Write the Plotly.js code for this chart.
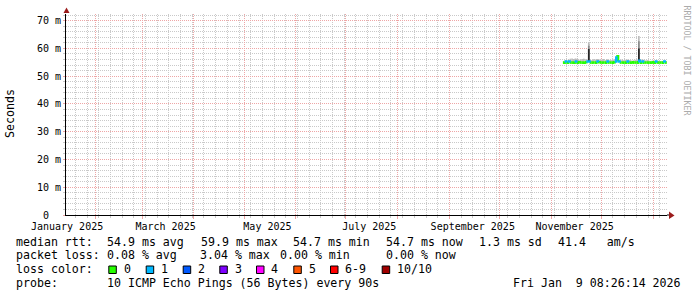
<!DOCTYPE html>
<html><head><meta charset="utf-8">
<script src="https://cdn.plot.ly/plotly-3.0.1.min.js"></script>
<style>html,body{margin:0;padding:0;background:#fff;} #chart{width:697px;height:297px;}</style>
</head><body><div id="chart"></div>
<script>
// ---- data ----
const days = ['2025-11-08','2025-11-09','2025-11-10','2025-11-11','2025-11-12','2025-11-13','2025-11-14','2025-11-15','2025-11-16','2025-11-17',
 '2025-11-18','2025-11-19','2025-11-20','2025-11-21','2025-11-22','2025-11-23','2025-11-24','2025-11-25','2025-11-26','2025-11-27',
 '2025-11-28','2025-11-29','2025-11-30','2025-12-01','2025-12-02','2025-12-03','2025-12-04','2025-12-05','2025-12-06','2025-12-07',
 '2025-12-08','2025-12-09','2025-12-10','2025-12-11','2025-12-12','2025-12-13','2025-12-14','2025-12-15','2025-12-16','2025-12-17',
 '2025-12-18','2025-12-19','2025-12-20','2025-12-21','2025-12-22','2025-12-23','2025-12-24','2025-12-25','2025-12-26','2025-12-27',
 '2025-12-28','2025-12-29','2025-12-30','2025-12-31','2026-01-01','2026-01-02','2026-01-03','2026-01-04','2026-01-05','2026-01-06',
 '2026-01-07','2026-01-08','2026-01-09'];
const medianMs = [54.9,55.3,54.9,55.3,54.9,54.9,54.9,55.3,54.9,55.0,
 54.9,54.9,54.9,55.0,55.3,55.3,54.9,54.9,54.9,54.9,
 55.3,55.0,54.9,54.9,54.9,54.9,55.3,54.9,54.9,54.9,
 55.0,55.3,57.2,55.3,54.9,54.9,54.9,54.9,55.3,54.9,
 54.9,55.0,54.9,54.9,54.9,55.5,54.9,55.3,54.9,54.9,
 54.9,54.9,54.9,55.0,54.9,55.3,54.9,54.9,54.9,54.9,
 55.3,54.9,54.9];
const lossCount = [0,1,0,1,0,0,0,1,0,0,
 0,0,0,0,1,1,0,0,0,0,
 1,0,0,0,0,0,1,0,0,0,
 0,1,0,1,0,0,0,0,1,0,
 0,0,0,0,0,1,0,1,0,0,
 0,0,0,0,0,1,0,0,0,0,
 1,0,0];
const smokeMaxMs = [55.4,55.8,55.6,56.0,56.3,56.4,56.2,56.4,56.3,55.9,
 56.0,56.2,56.3,56.1,56.0,62.0,55.7,55.8,56.1,56.0,
 56.2,56.1,55.9,56.0,56.2,55.8,56.1,55.7,55.9,55.8,
 56.0,55.9,57.5,55.8,55.6,56.0,55.7,55.9,56.0,55.7,
 55.8,55.6,55.7,55.9,56.0,64.5,56.1,56.0,55.9,55.7,
 55.8,55.6,55.5,55.6,55.5,55.7,55.5,55.6,55.4,55.5,
 55.6,55.4,55.3];
const spikeMidMs = {'2025-11-23': 61.0, '2025-12-23': 62.6};
const spikeCoreMs = {'2025-11-23': 59.8, '2025-12-23': 60.0};

const yTickVals = [0,10,20,30,40,50,60,70];
const yTickText = ['0\u00a0\u00a0','10 m','20 m','30 m','40 m','50 m','60 m','70 m'];
const monthStarts = ['2025-02-01','2025-03-01','2025-04-01','2025-05-01','2025-06-01','2025-07-01',
 '2025-08-01','2025-09-01','2025-10-01','2025-11-01','2025-12-01','2026-01-01'];
const labelDates = ['2025-01-15','2025-03-15','2025-05-15','2025-07-15','2025-09-15','2025-11-15'];
const labelText = ['January 2025','March 2025','May 2025','July 2025','September 2025','November 2025'];

const lossLabels = ['0','1','2','3','4','5','6-9','10/10'];
const lossColors = ['#26ff00','#00b8ff','#0059ff','#7e00ff','#ff00ff','#ff5500','#ff0000','#a00000'];
const rttStats = ['54.9 ms avg','59.9 ms max','54.7 ms min','54.7 ms now','1.3 ms sd','41.4\u00a0\u00a0\u00a0am/s'];
const lossStats = ['0.08 % avg','3.04 % max','0.00 % min','0.00 % now'];
const probeText = '10 ICMP Echo Pings (56 Bytes) every 90s';
const stampText = 'Fri Jan \u00a09 08:26:14 2026';

const rangeStart = '2025-01-14 08:26:14';
const rangeEnd = '2026-01-09 08:26:14';

// ---- layout helpers (pixel -> paper) ----
const L = 66, R = 667, T = 14, B = 215;
const px = X => (X - L) / (R - L);
const py = Y => (B - Y) / (B - T);
const FONT = 'DejaVu Sans Mono';
const DAY = 86400000;

function lossIdx(n){ if(n<=5) return n; if(n<10) return 6; return 7; }

const traces = [];
function smokeBar(tops, color){
  const y = days.map((d,i)=>{ const t = tops(d,i); return t==null?null:t - medianMs[i]; });
  traces.push({type:'bar', x:days, base:medianMs, y:y, offset:0, width:DAY,
    marker:{color:color, line:{width:0}}, hoverinfo:'skip', showlegend:false});
}
smokeBar((d,i)=>smokeMaxMs[i], '#bcbcbc');
smokeBar(d=>spikeMidMs[d]??null, '#8c8c8c');
smokeBar(d=>spikeCoreMs[d]??null, '#262626');

// median line, coloured by loss
lossColors.forEach((c,ci)=>{
  const x=[], y=[];
  days.forEach((d,i)=>{
    if(lossIdx(lossCount[i])!==ci) return;
    x.push(d); y.push(medianMs[i]);
    if(i+1<days.length){ x.push(days[i+1]); y.push(medianMs[i+1]); }
    else { x.push(rangeEnd); y.push(medianMs[i]); }
    x.push(null); y.push(null);
  });
  if(x.length) traces.push({type:'scatter', mode:'lines', x:x, y:y, line:{color:c, width:2.6, shape:'hv'},
    connectgaps:false, hoverinfo:'skip', showlegend:false});
});

const MGRID = '#eea6a6', GRID = '#c9c9c9', DASH = '1px,1px';
const annotations = [];
function txt(t, X, Y, opt){
  annotations.push(Object.assign({text:t, xref:'paper', yref:'paper', x:px(X), y:py(Y), xanchor:'left', yanchor:'middle',
    showarrow:false, borderpad:0, borderwidth:0, font:{family:FONT, size:11.6, color:'#000'}}, opt||{}));
}
const ROW = [241.5, 255.3, 269.4, 283.3];
txt('median rtt:', 16, ROW[0]);
[107.3,200.7,293.3,386,479.3,558.3].forEach((X,i)=>txt(rttStats[i], X, ROW[0]));
txt('packet loss:', 16, ROW[1]);
[107.3,199.5,279.5,386].forEach((X,i)=>txt(lossStats[i], X, ROW[1]));
txt('loss color:', 16, ROW[2]);
const boxX = [108.3,145.7,182.7,219.3,256,293.3,330,381.7];
const shapes = [];
boxX.forEach((X,i)=>{
  shapes.push({type:'rect', xref:'paper', yref:'paper', x0:px(X+0.5), x1:px(X+8), y0:py(273.5), y1:py(266),
    fillcolor:lossColors[i], line:{color:'#000', width:1}});
  txt(lossLabels[i], X+15.3, ROW[2]);
});
txt('probe:', 16, ROW[3]);
txt(probeText, 107.3, ROW[3]);
txt(stampText, 513.3, ROW[3]);
txt('Seconds', 10, 114, {textangle:-90, xanchor:'center'});
txt('RRDTOOL / TOBI OETIKER', 686.5, 60, {textangle:90, xanchor:'center', font:{family:FONT, size:8.3, color:'#ababab'}});

// axis arrows / extension
const ARROW = '#9b1c1c';
shapes.push({type:'line', xref:'paper', yref:'paper', x0:1, x1:px(669.5), y0:0, y1:0, line:{color:'#000', width:1}});
shapes.push({type:'path', xref:'paper', yref:'paper', fillcolor:ARROW, line:{width:0},
  path:`M ${px(669)} ${py(211.5)} L ${px(674.5)} ${py(215.5)} L ${px(669)} ${py(219)} Z`});
shapes.push({type:'path', xref:'paper', yref:'paper', fillcolor:ARROW, line:{width:0},
  path:`M ${px(63.5)} ${py(13)} L ${px(66.5)} ${py(7.5)} L ${px(69.5)} ${py(13)} Z`});

const layout = {
  width:697, height:297, margin:{l:L, r:697-R, t:T, b:297-B, pad:0},
  paper_bgcolor:'#fff', plot_bgcolor:'#fff', barmode:'overlay', showlegend:false,
  font:{family:FONT, size:10, color:'#000'},
  xaxis:{type:'date', range:[rangeStart, rangeEnd], tickmode:'array', tickvals:monthStarts, showticklabels:false,
    ticks:'outside', ticklen:3, tickcolor:MGRID, showgrid:true, gridcolor:MGRID, griddash:DASH, gridwidth:1,
    showline:true, linecolor:'#000', linewidth:1, zeroline:false, fixedrange:true,
    minor:{tickmode:'linear', tick0:'2025-01-06', dtick:7*DAY, showgrid:true, gridcolor:GRID, gridwidth:1, griddash:DASH,
      ticks:'outside', ticklen:2, tickcolor:GRID}},
  xaxis2:{type:'date', overlaying:'x', anchor:'y', side:'bottom', range:[rangeStart, rangeEnd], tickmode:'array',
    tickvals:labelDates, ticktext:labelText, showgrid:false, ticks:'', showline:false, zeroline:false,
    ticklabelstandoff:4, tickfont:{family:FONT, size:10, color:'#000'}, fixedrange:true},
  yaxis:{range:[0,72.4], tickmode:'array', tickvals:yTickVals, ticktext:yTickText, ticks:'outside', ticklen:2,
    tickcolor:MGRID, showgrid:true, gridcolor:MGRID, griddash:DASH, showline:true, linecolor:'#000', linewidth:1,
    zeroline:false, tickfont:{family:FONT, size:10, color:'#000'}, fixedrange:true,
    minor:{tickmode:'linear', tick0:0, dtick:2, showgrid:true, gridcolor:GRID, gridwidth:1, griddash:DASH, ticks:'outside', ticklen:2, tickcolor:GRID}},
  shapes:shapes, annotations:annotations
};
traces.push({type:'scatter', x:[rangeStart], y:[null], xaxis:'x2', yaxis:'y', hoverinfo:'skip', showlegend:false});
Plotly.newPlot('chart', traces, layout, {displayModeBar:false, staticPlot:true});
</script></body></html>
